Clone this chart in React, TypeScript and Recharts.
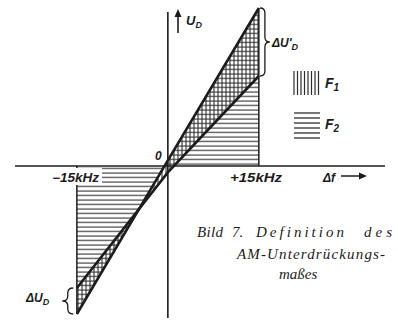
import React from "react";
import {
  ComposedChart,
  Area,
  Line,
  ReferenceLine,
  ReferenceArea,
  XAxis,
  YAxis,
} from "recharts";

// Δf in kHz and detector output U_D for the two characteristics
const freq = [-15, 0, 15];
const uSteep = [-14.8, 0.56, 15.8];
const uShallow = [-12.2, -0.64, 9.0];

// axis ranges
const fDomain = [-25.2, 35.8];
const uDomain = [-15.2, 15.9];
const uAxisTop = 15.4;

const rows = freq.map((f, i) => ({ f, steep: uSteep[i], shallow: uShallow[i] }));

const INK = "#1c1c1c";
const HATCH = "#2e2e2e";
const labelFont = "'Liberation Sans', Arial, sans-serif";
const captionFont = "'Liberation Serif', 'Times New Roman', serif";

// curly brace inside the given box, tip pointing right (dir=1) or left (dir=-1)
function braceShape(dir: number) {
  return (props: any) => {
    const { x, y, width: w, height: h } = props;
    const ym = y + h / 2;
    const r = Math.min(5, h / 5);
    const back = dir > 0 ? x : x + w;
    const mid = x + w / 2;
    const tip = dir > 0 ? x + w : x;
    const d =
      `M${back},${y} Q${mid},${y} ${mid},${y + r} ` +
      `L${mid},${ym - r} Q${mid},${ym} ${tip},${ym} ` +
      `Q${mid},${ym} ${mid},${ym + r} ` +
      `L${mid},${y + h - r} Q${mid},${y + h} ${back},${y + h}`;
    return <path d={d} fill="none" stroke={INK} strokeWidth={1.3} />;
  };
}

function Overlay() {
  const f1Lines = [0, 1, 2, 3, 4, 5, 6, 7];
  const f2Lines = [0, 1, 2, 3, 4, 5];
  const cap = {
    fontFamily: captionFont,
    fontStyle: "italic",
    fontSize: 15,
    fill: INK,
  } as const;
  return (
    <svg
      width={398}
      height={326}
      style={{ position: "absolute", left: 0, top: 0, pointerEvents: "none" }}
    >
      {/* U_D arrow and label */}
      <line x1={178} y1={33} x2={178} y2={14} stroke={INK} strokeWidth={1.6} />
      <path d="M174.5,17 L178,9 L181.5,17 Z" fill={INK} />
      <text x={186} y={25} fontFamily={labelFont} fontStyle="italic" fontWeight={700} fontSize={13} fill={INK}>
        U<tspan fontSize={9} dy={3}>D</tspan>
      </text>

      <text x={155} y={160} fontFamily={labelFont} fontStyle="italic" fontWeight={700} fontSize={12} fill={INK}>
        0
      </text>

      {/* -15 kHz label sits over the hatching */}
      <rect x={50} y={168} width={52} height={17} fill="#fff" />
      <text x={52} y={182} fontFamily={labelFont} fontStyle="italic" fontWeight={700} fontSize={12} fill={INK} textLength={47} lengthAdjust="spacingAndGlyphs">
        −15kHz
      </text>
      <text x={230} y={182} fontFamily={labelFont} fontStyle="italic" fontWeight={700} fontSize={12} fill={INK} textLength={52} lengthAdjust="spacingAndGlyphs">
        +15kHz
      </text>

      {/* Δf arrow */}
      <text x={323} y={182} fontFamily={labelFont} fontStyle="italic" fontWeight={700} fontSize={12} fill={INK}>
        Δf
      </text>
      <line x1={341} y1={176} x2={361} y2={176} stroke={INK} strokeWidth={1.5} />
      <path d="M359,172.5 L367,176 L359,179.5 Z" fill={INK} />

      {/* brace labels */}
      <text x={272} y={47} fontFamily={labelFont} fontStyle="italic" fontWeight={700} fontSize={12} fill={INK}>
        ΔU'<tspan fontSize={9} dy={3}>D</tspan>
      </text>
      <text x={26} y={302} fontFamily={labelFont} fontStyle="italic" fontWeight={700} fontSize={12} fill={INK}>
        ΔU<tspan fontSize={9} dy={3}>D</tspan>
      </text>

      {/* legend swatches */}
      {f1Lines.map((i) => (
        <line key={`v${i}`} x1={294 + i * 3.5} y1={71} x2={294 + i * 3.5} y2={95} stroke={HATCH} strokeWidth={1.2} />
      ))}
      <text x={325} y={88} fontFamily={labelFont} fontStyle="italic" fontWeight={700} fontSize={14} fill={INK}>
        F<tspan fontSize={10} dy={3}>1</tspan>
      </text>
      {f2Lines.map((i) => (
        <line key={`h${i}`} x1={294} y1={113 + i * 5} x2={320} y2={113 + i * 5} stroke={HATCH} strokeWidth={1.3} />
      ))}
      <text x={325} y={129} fontFamily={labelFont} fontStyle="italic" fontWeight={700} fontSize={14} fill={INK}>
        F<tspan fontSize={10} dy={3}>2</tspan>
      </text>

      {/* caption */}
      <text x={197} y={237} {...cap} textLength={26} lengthAdjust="spacing">Bild</text>
      <text x={232} y={237} {...cap}>7.</text>
      <text x={256} y={237} {...cap} textLength={88} lengthAdjust="spacing">Definition</text>
      <text x={364} y={237} {...cap} textLength={28} lengthAdjust="spacing">des</text>
      <text x={237} y={259} {...cap} textLength={148} lengthAdjust="spacing">
        AM-Unterdrückungs-
      </text>
      <text x={279} y={279} {...cap}>
        maßes
      </text>
    </svg>
  );
}

export default function App() {
  return (
    <div
      style={{
        position: "absolute",
        left: 0,
        top: 0,
        width: 398,
        height: 326,
        background: "#fff",
      }}
    >
      <ComposedChart
        width={398}
        height={326}
        data={rows}
        margin={{ top: 7, right: 13, bottom: 8, left: 15 }}
      >
        <defs>
          <pattern id="hatchH" patternUnits="userSpaceOnUse" width={8} height={4.5}>
            <line x1={0} y1={2} x2={8} y2={2} stroke={HATCH} strokeWidth={1.1} />
          </pattern>
          <pattern id="hatchV" patternUnits="userSpaceOnUse" width={4} height={8}>
            <line x1={2} y1={0} x2={2} y2={8} stroke={HATCH} strokeWidth={1.1} />
          </pattern>
        </defs>
        <XAxis dataKey="f" type="number" domain={fDomain} hide />
        <YAxis type="number" domain={uDomain} hide />

        {/* F2: area under the steep characteristic */}
        <Area
          type="linear"
          dataKey="steep"
          stroke="none"
          fill="url(#hatchH)"
          fillOpacity={1}
          isAnimationActive={false}
        />
        {/* F1: area between both characteristics */}
        <Area
          type="linear"
          dataKey={(d: any) => [d.shallow, d.steep]}
          stroke="none"
          fill="url(#hatchV)"
          fillOpacity={1}
          isAnimationActive={false}
        />

        <ReferenceLine y={0} stroke={INK} strokeWidth={1.6} />
        <ReferenceLine
          segment={[{ x: 0, y: uDomain[0] }, { x: 0, y: uAxisTop }]}
          stroke={INK}
          strokeWidth={1.6}
        />
        <ReferenceLine
          segment={[{ x: freq[2], y: 0 }, { x: freq[2], y: uSteep[2] }]}
          stroke={INK}
          strokeWidth={1.5}
        />
        <ReferenceLine
          segment={[{ x: freq[0], y: 0 }, { x: freq[0], y: uSteep[0] }]}
          stroke={INK}
          strokeWidth={1.5}
        />

        <Line
          type="linear"
          dataKey="steep"
          stroke={INK}
          strokeWidth={2.6}
          dot={false}
          isAnimationActive={false}
        />
        <Line
          type="linear"
          dataKey="shallow"
          stroke={INK}
          strokeWidth={2.6}
          dot={false}
          isAnimationActive={false}
        />

        {/* ΔU'_D and ΔU_D braces */}
        <ReferenceArea
          x1={freq[2] + 0.2}
          x2={freq[2] + 1.8}
          y1={uShallow[2]}
          y2={uSteep[2]}
          ifOverflow="visible"
          shape={braceShape(1)}
        />
        <ReferenceArea
          x1={freq[0] - 2.4}
          x2={freq[0] - 0.6}
          y1={uSteep[0]}
          y2={uShallow[0]}
          ifOverflow="visible"
          shape={braceShape(-1)}
        />
      </ComposedChart>
      <Overlay />
    </div>
  );
}
